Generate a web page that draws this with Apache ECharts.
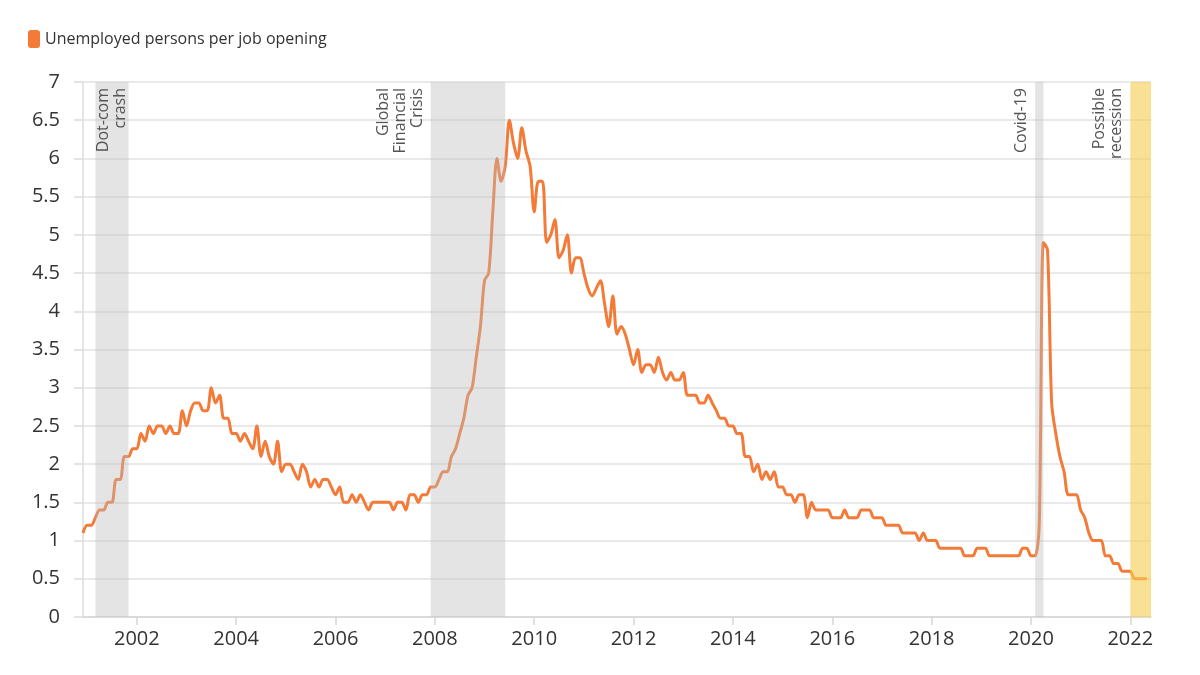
<!DOCTYPE html>
<html>
<head>
<meta charset="utf-8">
<script src="https://cdn.jsdelivr.net/npm/echarts@6/dist/echarts.min.js"></script>
<style>
  html, body { margin: 0; padding: 0; background: #fff; }
  #chart { width: 1200px; height: 675px; }
</style>
</head>
<body>
<div id="chart"></div>
<script>
// monthly series, Dec 2000 .. May 2022
var startYear = 2000, startMonth = 12, monthCount = 259; // axis runs to Jun 2022

var ratio = [
  1.1, 1.2, 1.2, 1.3, 1.4, 1.4, 1.5, 1.5, 1.8, 1.8, 2.1, 2.1,
  2.2, 2.2, 2.4, 2.3, 2.5, 2.4, 2.5, 2.5, 2.4, 2.5, 2.4, 2.4,
  2.7, 2.5, 2.7, 2.8, 2.8, 2.7, 2.7, 3.0, 2.8, 2.9, 2.6, 2.6,
  2.4, 2.4, 2.3, 2.4, 2.3, 2.2, 2.5, 2.1, 2.3, 2.1, 2.0, 2.3,
  1.9, 2.0, 2.0, 1.9, 1.8, 2.0, 1.9, 1.7, 1.8, 1.7, 1.8, 1.8,
  1.7, 1.6, 1.7, 1.5, 1.5, 1.6, 1.5, 1.6, 1.5, 1.4, 1.5, 1.5,
  1.5, 1.5, 1.5, 1.4, 1.5, 1.5, 1.4, 1.6, 1.6, 1.5, 1.6, 1.6,
  1.7, 1.7, 1.8, 1.9, 1.9, 2.1, 2.2, 2.4, 2.6, 2.9, 3.0, 3.4,
  3.8, 4.4, 4.5, 5.3, 6.0, 5.7, 5.9, 6.5, 6.2, 6.0, 6.4, 6.1,
  5.9, 5.3, 5.7, 5.7, 4.9, 5.0, 5.2, 4.7, 4.8, 5.0, 4.5, 4.7,
  4.7, 4.5, 4.3, 4.2, 4.3, 4.4, 4.1, 3.8, 4.2, 3.7, 3.8, 3.7,
  3.5, 3.3, 3.5, 3.2, 3.3, 3.3, 3.2, 3.4, 3.2, 3.1, 3.2, 3.1,
  3.1, 3.2, 2.9, 2.9, 2.9, 2.8, 2.8, 2.9, 2.8, 2.7, 2.6, 2.6,
  2.5, 2.5, 2.4, 2.4, 2.1, 2.1, 1.9, 2.0, 1.8, 1.9, 1.8, 1.9,
  1.7, 1.7, 1.6, 1.6, 1.5, 1.6, 1.6, 1.3, 1.5, 1.4, 1.4, 1.4,
  1.4, 1.3, 1.3, 1.3, 1.4, 1.3, 1.3, 1.3, 1.4, 1.4, 1.4, 1.3,
  1.3, 1.3, 1.2, 1.2, 1.2, 1.2, 1.1, 1.1, 1.1, 1.1, 1.0, 1.1,
  1.0, 1.0, 1.0, 0.9, 0.9, 0.9, 0.9, 0.9, 0.9, 0.8, 0.8, 0.8,
  0.9, 0.9, 0.9, 0.8, 0.8, 0.8, 0.8, 0.8, 0.8, 0.8, 0.8, 0.9,
  0.9, 0.8, 0.8, 1.2, 4.9, 4.8, 2.8, 2.4, 2.1, 1.9, 1.6, 1.6,
  1.6, 1.4, 1.3, 1.1, 1.0, 1.0, 1.0, 0.8, 0.8, 0.7, 0.7, 0.6,
  0.6, 0.6, 0.5, 0.5, 0.5, 0.5
];

// shaded periods: [label, from, to]
var bandNames = ['Dot-com\ncrash', 'Global\nFinancial\nCrisis', 'Covid-19', 'Possible\nrecession'];
var bandStart = ['2001-03', '2007-12', '2020-02', '2022-01'];
var bandEnd   = ['2001-11', '2009-06', '2020-04', '2022-06'];

var yTicks = [0, 0.5, 1, 1.5, 2, 2.5, 3, 3.5, 4, 4.5, 5, 5.5, 6, 6.5, 7];

var months = [];
for (var i = 0; i < monthCount; i++) {
  var m = startMonth - 1 + i;
  var y = startYear + Math.floor(m / 12);
  var mm = (m % 12) + 1;
  months.push(y + '-' + (mm < 10 ? '0' + mm : mm));
}

function isLabelMonth(idx, val) {
  return val.slice(5) === '01' && (+val.slice(0, 4)) % 2 === 0;
}

var bands = bandNames.map(function (name, i) {
  var last = i === bandNames.length - 1;
  var inside = i === 0;
  return [
    {
      name: name,
      xAxis: bandStart[i],
      itemStyle: { color: last ? 'rgba(246,206,80,0.62)' : 'rgba(187,187,187,0.4)' },
      label: {
        show: true,
        rotate: 90,
        position: inside ? ['100%', 6] : [-5, 6],
        align: 'right',
        verticalAlign: 'bottom',
        color: '#555',
        fontSize: 16,
        lineHeight: 17,
        fontFamily: 'Open Sans'
      }
    },
    { xAxis: bandEnd[i] }
  ];
});

var option = {
  animation: false,
  textStyle: { fontFamily: 'Open Sans' },
  legend: {
    data: ['Unemployed persons per job opening'],
    left: 28,
    top: 30,
    padding: 0,
    icon: 'roundRect',
    itemWidth: 12,
    itemHeight: 18,
    textStyle: { fontSize: 16, color: '#333', fontFamily: 'Open Sans' }
  },
  grid: { left: 83, right: 49, top: 82, bottom: 58 },
  xAxis: {
    type: 'category',
    data: months,
    boundaryGap: false,
    axisLine: { lineStyle: { color: '#d6d6d6', width: 1.5 } },
    axisTick: { show: true, interval: isLabelMonth, length: 8, lineStyle: { color: '#d6d6d6', width: 1.5 } },
    axisLabel: {
      interval: isLabelMonth,
      formatter: function (v) { return v.slice(0, 4); },
      fontSize: 20,
      color: '#333',
      margin: 12
    },
    splitLine: { show: false }
  },
  yAxis: {
    type: 'value',
    min: yTicks[0],
    max: yTicks[yTicks.length - 1],
    interval: 0.5,
    axisLine: { show: true, lineStyle: { color: '#dcdcdc', width: 1.5 } },
    axisTick: { show: true, length: 9, lineStyle: { color: '#dcdcdc', width: 1.5 } },
    axisLabel: { fontSize: 20, color: '#333', margin: 23 },
    splitLine: { lineStyle: { color: '#e2e2e2', width: 1.5 } }
  },
  series: [
    {
      name: 'Unemployed persons per job opening',
      type: 'line',
      data: ratio,
      smooth: 0.3,
      symbol: 'none',
      color: '#f47a38',
      lineStyle: { width: 3, color: '#f47a38' },
      z: 2
    },
    {
      name: 'bands',
      type: 'line',
      data: [],
      z: 5,
      silent: true,
      markArea: {
        z: 5,
        silent: true,
        emphasis: { disabled: true },
        data: bands
      }
    }
  ]
};

echarts.init(document.getElementById('chart')).setOption(option);
</script>
</body>
</html>
